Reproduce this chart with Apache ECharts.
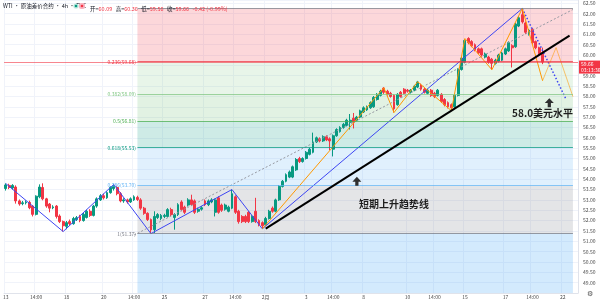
<!DOCTYPE html>
<html><head><meta charset="utf-8">
<script src="https://cdn.jsdelivr.net/npm/echarts@6/dist/echarts.min.js"></script>
<style>html,body{margin:0;padding:0;background:#fff}#c{width:600px;height:300px}</style>
</head><body><div id="c"></div>
<script>
// ---- data ----
// candles: [open, close, low, high]
const ohlc = [
[53.55,53.72,53.45,53.80],[53.70,53.60,53.52,53.78],[53.58,53.70,53.50,53.76],[53.62,52.95,52.82,53.70],
[52.95,52.80,52.72,53.02],[52.82,52.86,52.74,52.95],[52.86,52.90,52.78,52.98],[52.88,52.62,52.55,52.96],
[52.70,52.30,52.20,52.75],[52.30,53.18,52.25,53.22],[53.15,53.62,53.08,53.75],[53.60,53.05,52.98,53.80],
[53.05,52.70,52.62,53.10],[52.80,52.60,52.40,52.85],[52.62,52.66,52.55,52.74],[52.70,52.20,52.10,52.75],
[52.22,51.95,51.88,52.30],[51.95,51.75,51.47,52.00],[51.72,51.90,51.58,51.98],[51.95,51.85,51.78,52.05],
[51.85,52.10,51.80,52.18],[52.05,52.14,51.98,52.22],[52.20,52.00,51.92,52.28],[52.00,52.30,51.95,52.38],
[52.15,52.45,52.10,52.52],[52.45,52.25,52.18,52.55],[52.25,52.70,52.20,52.76],[52.70,53.05,52.62,53.12],
[53.00,53.20,52.95,53.28],[53.20,53.10,53.02,53.30],[53.10,53.35,53.05,53.42],[53.35,53.60,53.30,53.66],
[53.55,53.65,53.45,53.75],[53.60,53.30,53.22,53.68],[53.30,52.95,52.88,53.38],[52.95,53.00,52.86,53.08],
[53.00,52.90,52.82,53.06],[52.90,53.05,52.85,53.12],[53.00,53.15,52.95,53.22],[53.12,53.02,52.95,53.20],
[53.00,52.60,52.52,53.08],[52.60,52.35,52.28,52.66],[52.35,52.05,51.98,52.40],[52.05,51.55,51.37,52.10],
[51.56,52.20,51.40,52.45],[52.15,52.29,52.08,52.36],[52.10,52.25,52.02,52.32],[52.20,52.25,52.12,52.33],
[52.20,52.53,52.15,52.60],[52.53,52.29,52.22,52.62],[52.15,52.29,51.56,52.36],[52.29,52.77,52.22,52.84],
[52.90,52.53,52.45,52.98],[52.65,52.40,52.32,52.72],[52.75,53.00,52.68,53.08],[53.00,52.77,52.70,53.25],
[52.95,52.40,52.32,53.02],[52.45,52.55,52.38,52.62],[52.55,52.62,52.48,52.70],[52.95,52.77,52.70,53.02],
[52.77,52.95,52.70,53.02],[52.90,53.00,52.84,53.08],[52.40,53.00,52.20,53.06],[53.10,52.40,52.33,53.18],
[52.75,52.50,52.42,52.82],[52.55,52.75,52.48,52.82],[52.45,52.65,52.40,52.72],[52.60,53.30,52.55,53.50],
[53.15,52.40,52.32,53.22],[52.45,51.95,51.85,52.52],[52.20,51.95,51.88,52.26],[52.20,51.95,51.88,52.28],
[52.40,51.95,51.88,52.46],[51.95,52.20,51.90,52.26],[52.45,51.95,51.88,53.10],[52.00,51.80,51.72,52.06],
[51.90,51.75,51.60,51.96],[51.80,52.10,51.75,52.18],[52.10,52.45,52.05,52.52],[52.60,52.45,52.38,52.68],
[52.45,53.00,52.40,53.06],[53.00,53.65,52.95,53.72],[53.65,53.90,53.60,53.96],[53.90,54.22,53.85,54.28],
[54.10,54.35,54.05,54.42],[54.10,54.60,54.05,54.66],[54.45,54.95,54.40,55.02],[55.00,54.85,54.78,55.08],
[54.85,55.00,54.80,55.06],[55.00,55.30,54.95,55.36],[55.20,55.45,55.15,55.52],[55.30,55.80,55.25,56.25],
[55.80,56.00,55.75,56.06],[55.95,55.85,55.78,56.02],[55.85,56.05,55.80,56.12],[56.05,55.90,55.84,56.12],
[55.95,55.85,55.40,56.02],[55.45,56.10,55.10,56.16],[56.10,56.40,56.05,56.46],[56.30,56.50,56.25,56.56],
[56.50,56.65,56.44,56.72],[56.60,56.85,56.55,56.92],[56.75,56.85,56.40,57.15],[56.95,56.75,56.45,57.20],
[56.85,57.00,56.80,57.06],[57.00,57.30,56.95,57.36],[57.25,57.45,57.20,57.52],[57.35,57.50,57.30,57.56],
[57.45,57.70,57.40,57.76],[57.50,57.95,57.45,58.02],[57.85,58.10,57.80,58.16],[58.05,58.25,58.00,58.32],
[58.40,58.20,58.12,58.45],[58.25,58.10,58.04,58.32],[58.15,58.00,57.94,58.22],[58.05,57.40,57.22,58.10],
[57.60,58.10,57.55,58.16],[58.20,58.00,57.94,58.26],[58.35,58.15,58.10,58.40],[58.30,58.25,58.18,58.36],
[58.20,58.30,58.14,58.36],[58.30,58.50,58.25,58.56],[58.45,58.70,58.40,58.75],[58.55,58.35,58.28,58.62],
[58.35,58.20,58.14,58.42],[58.15,58.30,58.10,58.36],[58.30,58.05,57.98,58.36],[58.15,58.00,57.92,58.22],
[58.05,58.30,58.00,58.36],[58.10,57.75,57.68,58.16],[57.85,57.60,57.52,57.92],[57.70,57.50,57.42,57.76],
[57.60,57.45,57.31,57.66],[57.50,58.05,57.45,58.12],[58.05,59.30,58.00,59.36],[59.30,59.85,59.25,59.92],
[59.65,60.70,59.60,60.76],[60.80,60.60,60.52,60.86],[60.65,60.45,60.38,60.72],[60.50,60.25,60.18,60.56],
[60.30,60.10,60.04,60.36],[60.30,60.00,59.92,60.36],[59.90,60.05,59.84,60.12],[59.90,59.65,59.58,59.96],
[59.80,59.60,59.30,59.86],[59.60,59.75,59.54,59.82],[59.70,60.00,59.64,60.06],[59.75,60.10,59.70,60.16],
[60.05,60.30,60.00,60.36],[60.20,60.60,60.15,60.66],[60.45,60.35,59.40,60.52],[60.40,61.50,60.35,61.56],
[61.40,61.80,61.35,61.88],[61.95,61.60,61.52,62.25],[61.55,61.10,61.02,61.62],[61.00,61.20,60.94,61.26],
[61.25,60.60,60.52,61.30],[60.65,60.35,60.28,60.70],[60.35,60.08,60.00,60.40],[60.09,59.66,59.56,60.36]
];
const categoryCount = 170;
const tickIndex = [0,9,18,29,38,47,59,68,77,89,97,106,119,127,136,148,156,165];
const tickText  = ['13','14:00','18','20','14:00','25','27','14:00','2月','3','14:00','8','10','14:00','15','17','14:00','22'];
const yMin = 48.5, yMax = 62.66;

const fibHigh = 62.25, fibLow = 51.37;
const fibRatios = [0, 0.236, 0.382, 0.5, 0.618, 0.786, 1];
const fibColors = ['#787b86','#f23645','#81c784','#4caf50','#089981','#64b5f6','#787b86'];
const fibBandAlpha = [0, 0.2, 0.18, 0.16, 0.2, 0.2, 0.2];
const fibBelowColor = '#2196f3';
const fibStart = 39, fibEnd = 168;

const blueZigzag = [[0,53.79],[17,51.47],[32,53.75],[43,51.37],[67,53.50],[76,51.60],[153,62.25]];
const blueProjection = [[153,62.25],[166,57.85]];
const orangeZigzag = [[76,51.60],[112,58.42],[115,57.22],[122,58.71],[132,57.31],[136,60.80],[144,59.29],[153,62.25],[159,58.76]];
const orangeProjection = [[159,58.76],[163,60.36],[168,57.99]];
const trendLine = [[77,51.61],[167,60.94]];
const channelLine = [[38,51.30],[168,62.20]];

const lastPrice = 59.66;
const countdown = '03:13:36';
const headerTitle = 'WTI · 原油差价合约 · 4h · TVC';
const headerOHLC = [['开=','60.09'],['高=','60.36'],['低=','59.56'],['收=','59.66']];
const headerChange = '-0.42 (-0.99%)';

const annotations = [
  {text:'短期上升趋势线', at:[115, 52.77]},
  {text:'58.0美元水平', at:[159, 57.17]}
];
const arrows = [[104, 53.90],[161, 57.70]];

// ---- chart ----
function rgba(hex, a){const n=parseInt(hex.slice(1),16);return `rgba(${n>>16},${(n>>8)&255},${n&255},${a})`;}
const cats = Array.from({length:categoryCount},(_,i)=>String(i));
const levelPrice = r => fibHigh - r*(fibHigh-fibLow);
const bandData = [];
for(let k=1;k<fibRatios.length;k++){
  bandData.push([{coord:[fibStart,levelPrice(fibRatios[k-1])],itemStyle:{color:rgba(fibColors[k],fibBandAlpha[k])}},{coord:[fibEnd,levelPrice(fibRatios[k])]}]);
}
bandData.push([{coord:[fibStart,levelPrice(1)],itemStyle:{color:rgba(fibBelowColor,0.2)}},{coord:[fibEnd,yMin]}]);
const levelLines = fibRatios.map((r,k)=>{
  const p = levelPrice(r);
  return [{coord:[fibStart,p],lineStyle:{color:rgba(fibColors[k],0.75),width:1,type:'solid'},
    label:{show:k>0,position:'start',distance:1.5,formatter:`${r}(${p.toFixed(2)})`,color:fibColors[k],fontSize:5}},
    {coord:[fibEnd,p]}];
});
const arrowPath = 'path://M5,0 L10,5.5 L6.8,5.5 L6.8,10 L3.2,10 L3.2,5.5 L0,5.5 Z';
const font = '"Noto Sans CJK SC", "Noto Sans", sans-serif';

const lineS = (name, data, style, z) => ({type:'line', name, data, symbol:'none', silent:true, z, lineStyle:style, animation:false});

const chart = echarts.init(document.getElementById('c'));
chart.setOption({
  animation:false,
  textStyle:{fontFamily:font},
  grid:{left:0,right:22,top:0,bottom:7},
  xAxis:{type:'category',data:cats,boundaryGap:true,
    axisLine:{show:true,lineStyle:{color:'#e0e3eb'}},axisTick:{show:false},
    axisLabel:{interval:(i)=>tickIndex.includes(i),formatter:(v,i)=>{const k=tickIndex.indexOf(i);return k>=0?tickText[k]:'';},
      fontSize:5,color:'#4a4a4a',margin:1.5,showMinLabel:true,hideOverlap:false},
    splitLine:{show:true,interval:(i)=>tickIndex.includes(i),lineStyle:{color:'#f0f3fa',width:1}}},
  yAxis:{type:'value',position:'right',min:yMin,max:yMax,interval:0.5,scale:true,
    axisLine:{show:true,lineStyle:{color:'#e0e3eb'}},axisTick:{show:false},
    axisLabel:{fontSize:5,color:'#4a4a4a',margin:5,showMinLabel:false,showMaxLabel:false,
      formatter:v=>(Math.abs(v-59.5)<1e-6||v<48.9||v>62.6)?'':v.toFixed(2)},
    splitLine:{show:true,lineStyle:{color:'#f0f3fa',width:1}}},
  series:[
    {type:'line',name:'fib',data:[],z:1,silent:true,
      markArea:{silent:true,data:bandData},
      markLine:{silent:true,symbol:['none','none'],data:levelLines,animation:false}},
    {type:'candlestick',name:'WTI',data:ohlc,z:2,barWidth:'70%',
      itemStyle:{color:'#089981',color0:'#f23645',borderColor:'#089981',borderColor0:'#f23645',borderWidth:1},
      markLine:{silent:true,symbol:['none','none'],animation:false,
        data:[{yAxis:lastPrice,lineStyle:{color:'rgba(242,54,69,0.6)',width:1,type:'solid'},
          label:{show:true,position:'end',distance:1,formatter:`${lastPrice.toFixed(2)}\n${countdown}`,
            backgroundColor:'#f23645',color:'#fff',fontSize:5,lineHeight:6,padding:[1,2,0,2],offset:[0,5]}}]}},
    lineS('channel',channelLine,{color:'#9598a1',width:1,type:[2,2]},3),
    lineS('blue',blueZigzag,{color:'#3d45f2',width:1},4),
    lineS('blueProj',blueProjection,{color:'#3d45f2',width:1.5,type:[1.5,2]},4),
    lineS('orange',orangeZigzag,{color:'#ff9800',width:1},4),
    lineS('orangeProj',orangeProjection,{color:'rgba(255,152,0,0.55)',width:1},4),
    lineS('trend',trendLine,{color:'#000',width:2},5),
    {type:'line',name:'notes',data:[],z:6,silent:true,
      markPoint:{silent:true,animation:false,data:[
        ...arrows.map(a=>({coord:a,symbol:arrowPath,symbolSize:[9,9],itemStyle:{color:'#2f2f2f'},label:{show:false}})),
        ...annotations.map(a=>({coord:a.at,symbol:'circle',symbolSize:0,
          label:{show:true,position:'inside',formatter:a.text,fontSize:10,fontWeight:'bold',color:'#1e1e1e',fontFamily:font}}))
      ]}}
  ],
  graphic:[
    {type:'text',left:3,top:3,z:10,style:{text:headerTitle,fontSize:5.5,fill:'#131722',fontFamily:font}},
    {type:'circle',z:10,shape:{cx:76,cy:6,r:2.6},style:{fill:'#b9e6dc'}},
    {type:'circle',z:11,shape:{cx:76,cy:6,r:1.3},style:{fill:'#089981'}},
    {type:'rect',z:10,shape:{x:79,y:3,width:6,height:6,r:2},style:{fill:'#f8b4c0'}},
    {type:'circle',z:11,shape:{cx:82,cy:6,r:1.3},style:{fill:'#f23645'}},
    {type:'text',left:90,top:3,z:10,style:{
      text:headerOHLC.map(p=>`{l|${p[0]}}{v|${p[1]}}`).join(' ')+` {v|${headerChange}}`,
      rich:{l:{fontSize:5.5,fill:'#131722',fontFamily:font},v:{fontSize:5.5,fill:'#f23645',fontFamily:font}}}},
    {type:'text',left:587,top:291,z:10,style:{text:'⚙',fontSize:7,fill:'#555'}}
  ]
});
</script></body></html>
